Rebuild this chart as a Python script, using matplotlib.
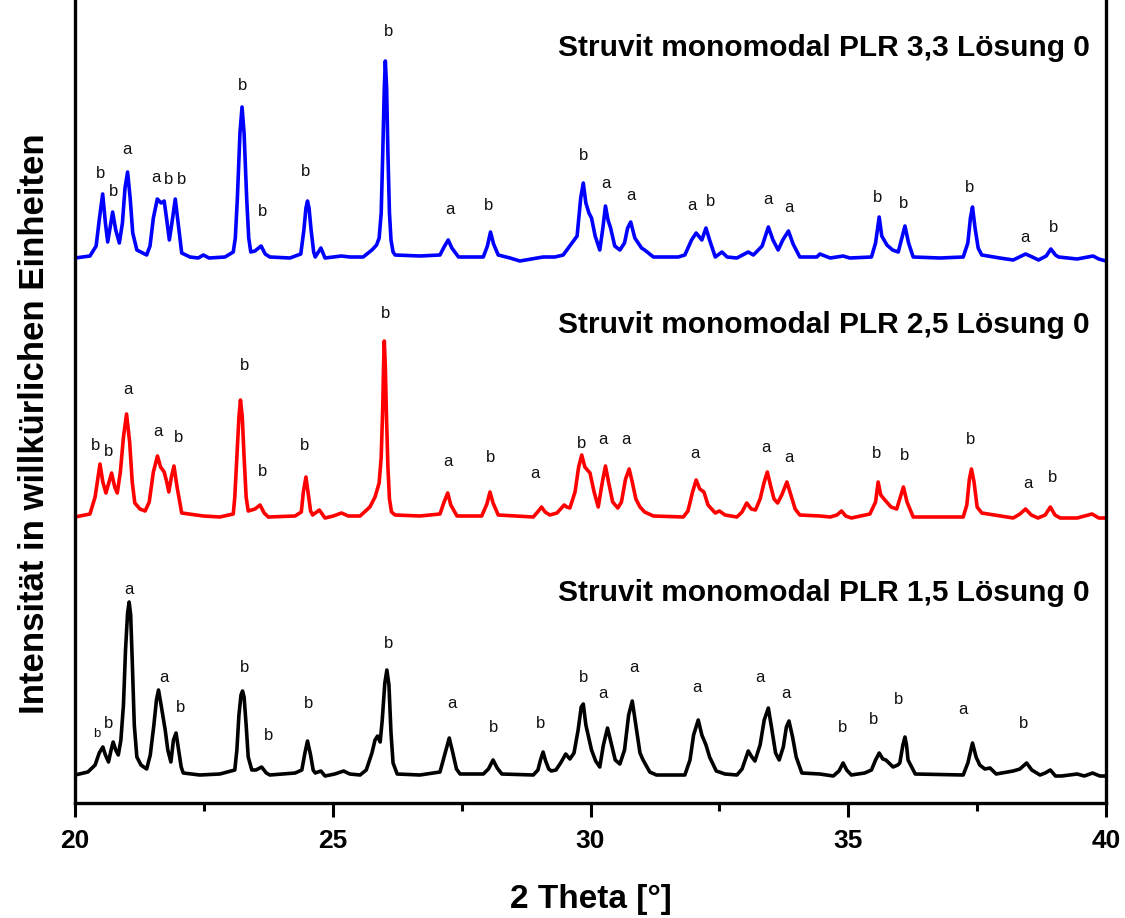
import matplotlib
matplotlib.use("Agg")
import matplotlib.pyplot as plt
from matplotlib import font_manager
from matplotlib.ticker import MultipleLocator

# ---------------- data: (2 Theta [deg], intensity [a.u.]) ----------------
blue_points = [(20.00, 0), (20.29, 2), (20.41, 12), (20.475, 40), (20.537, 64), (20.59, 35), (20.634, 16),
               (20.68, 30), (20.73, 46), (20.79, 28), (20.86, 15), (20.92, 35), (20.97, 70), (21.02, 86),
               (21.07, 60), (21.12, 25), (21.20, 8), (21.39, 3), (21.455, 12), (21.52, 40), (21.597, 59),
               (21.67, 55), (21.73, 57), (21.78, 38), (21.83, 18), (21.88, 35), (21.945, 59), (22.00, 35),
               (22.07, 5), (22.23, 1), (22.39, 0), (22.49, 3), (22.60, 0), (22.91, 1), (23.07, 6),
               (23.11, 20), (23.15, 60), (23.20, 125), (23.24, 151), (23.28, 125), (23.33, 60), (23.37, 20),
               (23.41, 6), (23.49, 7), (23.61, 12), (23.69, 4), (23.78, 1), (24.17, 0), (24.38, 4),
               (24.44, 28), (24.48, 50), (24.51, 57), (24.54, 50), (24.58, 28), (24.63, 6), (24.66, 1),
               (24.77, 10), (24.85, 0), (25.17, 2), (25.33, 1), (25.59, 1), (25.76, 8), (25.85, 13),
               (25.90, 20), (25.94, 45), (25.97, 105), (26.00, 170), (26.02, 197), (26.045, 170),
               (26.07, 105), (26.10, 45), (26.13, 18), (26.17, 6), (26.21, 3), (26.69, 2), (27.08, 3),
               (27.17, 12), (27.24, 18), (27.31, 10), (27.44, 1), (27.92, 1), (28.00, 12), (28.06, 26),
               (28.12, 14), (28.21, 3), (28.44, 0), (28.63, -3), (29.08, 1), (29.31, 1), (29.47, 3),
               (29.64, 15), (29.74, 22), (29.81, 60), (29.86, 75), (29.91, 55), (29.97, 45), (30.02, 40),
               (30.09, 22), (30.18, 8), (30.24, 30), (30.29, 52), (30.34, 38), (30.39, 30), (30.47, 12),
               (30.57, 8), (30.66, 15), (30.72, 30), (30.78, 36), (30.86, 20), (30.99, 10), (31.05, 8),
               (31.22, 1), (31.70, 1), (31.83, 3), (31.96, 18), (32.05, 25), (32.16, 18), (32.24, 30),
               (32.31, 18), (32.42, 1), (32.55, 6), (32.65, 1), (32.84, 0), (33.06, 6), (33.16, 3),
               (33.33, 12), (33.45, 31), (33.54, 18), (33.64, 8), (33.73, 18), (33.84, 27), (33.93, 14),
               (34.06, 1), (34.39, 1), (34.45, 4), (34.65, 0), (34.90, 2), (35.03, 0), (35.45, 1),
               (35.53, 15), (35.60, 41), (35.65, 22), (35.75, 13), (35.86, 8), (35.97, 6), (36.04, 20),
               (36.10, 32), (36.17, 15), (36.26, 1), (36.78, 0), (37.23, 1), (37.32, 15), (37.37, 40),
               (37.41, 51), (37.46, 30), (37.52, 10), (37.59, 3), (37.94, 0), (38.20, -2), (38.44, 4),
               (38.57, 1), (38.69, -2), (38.84, 2), (38.93, 9), (39.02, 3), (39.08, 1), (39.44, -1),
               (39.75, 2), (39.86, -1), (40.00, -3)]

red_points = [(20.00, 0), (20.29, 3), (20.39, 20), (20.485, 53), (20.54, 35), (20.60, 24), (20.66, 35),
              (20.71, 44), (20.77, 30), (20.82, 24), (20.88, 45), (20.94, 80), (21.00, 103), (21.06, 75),
              (21.11, 35), (21.16, 14), (21.26, 8), (21.36, 6), (21.44, 15), (21.52, 45), (21.60, 61),
              (21.66, 50), (21.73, 45), (21.78, 35), (21.82, 25), (21.87, 40), (21.92, 51), (21.98, 30),
              (22.07, 4), (22.49, 1), (22.81, 0), (23.07, 3), (23.10, 20), (23.14, 60), (23.18, 100),
              (23.21, 117), (23.245, 100), (23.28, 60), (23.32, 20), (23.36, 6), (23.49, 8), (23.59, 12),
              (23.67, 4), (23.75, 0), (24.27, 1), (24.39, 5), (24.43, 25), (24.48, 40), (24.52, 25),
              (24.57, 6), (24.61, 2), (24.74, 7), (24.85, -1), (25.01, 1), (25.17, 4), (25.30, 1),
              (25.53, 1), (25.72, 10), (25.82, 20), (25.90, 34), (25.94, 60), (25.97, 110), (25.985, 150),
              (26.00, 176), (26.02, 150), (26.04, 105), (26.07, 50), (26.10, 18), (26.14, 5), (26.21, 2),
              (26.69, 1), (27.08, 3), (27.16, 15), (27.23, 24), (27.29, 12), (27.41, 1), (27.89, 1),
              (27.99, 13), (28.05, 25), (28.11, 14), (28.21, 2), (28.89, 0), (28.99, 6), (29.05, 10),
              (29.12, 5), (29.21, 2), (29.35, 4), (29.49, 12), (29.54, 10), (29.60, 9), (29.70, 25),
              (29.77, 50), (29.83, 62), (29.89, 50), (29.99, 44), (30.07, 25), (30.15, 10), (30.23, 35),
              (30.29, 51), (30.35, 35), (30.43, 15), (30.53, 9), (30.60, 15), (30.68, 38), (30.75, 48),
              (30.81, 35), (30.88, 18), (30.96, 10), (31.05, 5), (31.22, 1), (31.80, 0), (31.89, 6),
              (31.98, 25), (32.05, 37), (32.12, 28), (32.20, 25), (32.28, 12), (32.42, 4), (32.50, 6),
              (32.61, 2), (32.84, 0), (32.94, 5), (33.03, 14), (33.12, 8), (33.20, 7), (33.29, 18),
              (33.37, 35), (33.43, 45), (33.50, 30), (33.56, 18), (33.63, 14), (33.71, 22), (33.81, 35),
              (33.87, 25), (33.97, 8), (34.06, 2), (34.45, 1), (34.65, 0), (34.78, 2), (34.87, 6),
              (34.95, 1), (35.06, -1), (35.42, 3), (35.53, 15), (35.58, 35), (35.63, 22), (35.71, 17),
              (35.83, 10), (35.94, 8), (36.00, 18), (36.07, 30), (36.14, 15), (36.26, 0), (37.23, 0),
              (37.30, 12), (37.35, 38), (37.39, 48), (37.44, 35), (37.50, 10), (37.59, 4), (38.20, -1),
              (38.33, 3), (38.44, 8), (38.55, 2), (38.68, -1), (38.82, 2), (38.92, 10), (39.01, 2),
              (39.11, -1), (39.44, -1), (39.73, 3), (39.86, -1), (40.00, -1)]

black_points = [(20.00, 0), (20.25, 3), (20.39, 10), (20.47, 22), (20.54, 28), (20.59, 20), (20.65, 13),
                (20.70, 25), (20.74, 33), (20.79, 25), (20.84, 20), (20.89, 35), (20.94, 70), (20.98, 125),
                (21.02, 162), (21.05, 173), (21.08, 160), (21.11, 115), (21.15, 50), (21.20, 18),
                (21.28, 10), (21.39, 6), (21.46, 20), (21.53, 50), (21.58, 75), (21.62, 85), (21.67, 70),
                (21.75, 45), (21.80, 25), (21.86, 13), (21.91, 35), (21.96, 42), (22.01, 25), (22.06, 8),
                (22.10, 2), (22.42, 0), (22.81, 1), (23.10, 5), (23.14, 25), (23.18, 60), (23.22, 80),
                (23.25, 84), (23.28, 78), (23.32, 50), (23.36, 18), (23.43, 5), (23.51, 5), (23.62, 8),
                (23.71, 2), (23.78, 0), (24.27, 2), (24.40, 5), (24.46, 22), (24.51, 34), (24.57, 20),
                (24.62, 5), (24.66, 2), (24.77, 4), (24.85, -1), (25.04, 1), (25.21, 4), (25.33, 1),
                (25.53, 0), (25.65, 5), (25.76, 22), (25.82, 35), (25.87, 39), (25.92, 33), (25.96, 55),
                (26.01, 92), (26.05, 105), (26.09, 90), (26.13, 42), (26.17, 12), (26.25, 1), (26.69, 0),
                (27.08, 3), (27.17, 20), (27.26, 37), (27.33, 22), (27.40, 6), (27.47, 1), (27.92, 1),
                (28.02, 6), (28.11, 15), (28.19, 7), (28.28, 1), (28.89, 0), (28.98, 5), (29.03, 15),
                (29.08, 23), (29.13, 14), (29.19, 6), (29.24, 4), (29.33, 5), (29.42, 12), (29.52, 21),
                (29.60, 16), (29.68, 22), (29.76, 45), (29.82, 68), (29.86, 71), (29.91, 50), (30.02, 25),
                (30.10, 14), (30.18, 8), (30.25, 30), (30.33, 47), (30.40, 32), (30.48, 15), (30.57, 11),
                (30.66, 25), (30.74, 60), (30.81, 74), (30.88, 50), (30.96, 22), (31.02, 15), (31.15, 3),
                (31.28, 0), (31.83, 0), (31.93, 15), (32.00, 40), (32.09, 55), (32.16, 40), (32.24, 30),
                (32.31, 18), (32.44, 4), (32.61, 1), (32.84, 0), (32.94, 6), (33.06, 24), (33.13, 18),
                (33.19, 14), (33.29, 30), (33.37, 55), (33.45, 67), (33.52, 45), (33.59, 22), (33.66, 15),
                (33.74, 28), (33.80, 48), (33.85, 54), (33.92, 38), (33.99, 18), (34.10, 2), (34.45, 1),
                (34.71, -1), (34.82, 4), (34.90, 12), (34.97, 5), (35.06, 0), (35.32, 2), (35.45, 5),
                (35.53, 15), (35.60, 22), (35.67, 16), (35.73, 15), (35.87, 8), (35.96, 10), (36.00, 12),
                (36.06, 30), (36.10, 38), (36.13, 30), (36.16, 15), (36.21, 10), (36.30, 1), (37.23, 0),
                (37.32, 12), (37.41, 32), (37.48, 18), (37.55, 10), (37.65, 6), (37.75, 7), (37.87, 1),
                (38.20, 4), (38.33, 6), (38.46, 12), (38.56, 5), (38.72, 0), (38.82, 2), (38.92, 5),
                (39.02, -1), (39.14, -1), (39.44, 1), (39.58, -1), (39.74, 2), (39.88, -1), (40.00, -1)]

# peak assignment labels: letter, 2 Theta, height (same units as intensity)
lab_blue_txt = ["b", "b", "a", "a", "b", "b", "b", "b", "b", "b", "a", "b", "b", "a", "a", "a", "b",
                "a", "a", "b", "b", "b", "a", "b"]
lab_blue_x = [20.50, 20.74, 21.01, 21.57, 21.82, 22.07, 23.25, 23.64, 24.47, 26.08, 27.27, 28.03, 29.86,
              30.29, 30.78, 31.96, 32.32, 33.45, 33.84, 35.56, 36.07, 37.36, 38.43, 38.99]
lab_blue_y = [84, 66, 109, 80, 79, 79, 173, 47, 87, 226, 48, 52, 103, 75, 63, 52, 56, 59, 50, 60, 54,
              71, 21, 31]

lab_red_txt = ["b", "b", "a", "a", "b", "b", "b", "b", "b", "a", "b", "a", "b", "a", "a", "a", "a",
               "a", "b", "b", "b", "a", "b"]
lab_red_x = [20.39, 20.65, 21.03, 21.60, 22.00, 23.28, 23.64, 24.46, 26.03, 27.24, 28.06, 28.92, 29.82,
             30.25, 30.69, 32.03, 33.40, 33.84, 35.54, 36.10, 37.38, 38.48, 38.96]
lab_red_y = [72, 66, 127, 86, 79, 152, 45, 71, 203, 55, 59, 43, 74, 77, 77, 64, 70, 60, 64, 61, 77,
             34, 39]

lab_black_txt = ["b", "b", "a", "a", "b", "b", "b", "b", "b", "a", "b", "b", "b", "a", "a", "a", "a",
                 "a", "b", "b", "b", "a", "b"]
lab_black_x = [20.43, 20.66, 21.05, 21.73, 22.04, 23.28, 23.76, 24.54, 26.08, 27.32, 28.11, 29.04, 29.86,
               30.25, 30.85, 32.06, 33.29, 33.79, 34.88, 35.49, 35.98, 37.23, 38.40]
lab_black_y = [41, 51, 186, 98, 68, 107, 39, 71, 131, 72, 48, 52, 98, 82, 107, 87, 98, 81, 48, 56, 76,
               66, 52]

series_names = ["Struvit monomodal PLR 3,3 Lösung 0",
                "Struvit monomodal PLR 2,5 Lösung 0",
                "Struvit monomodal PLR 1,5 Lösung 0"]
x_ticks = [20, 25, 30, 35, 40]

# ---------------- styling / layout ----------------
avail = {f.name for f in font_manager.fontManager.ttflist}
main_font = "Liberation Sans" if "Liberation Sans" in avail else "DejaVu Sans"
narrow_font = "Liberation Sans Narrow" if "Liberation Sans Narrow" in avail else main_font

offsets = [545, 286, 28]   # vertical stacking of the three patterns
colors = ["#0000ff", "#ff0000", "#000000"]
title_y = [755, 478, 210]

fig = plt.figure(figsize=(11.25, 9.18), dpi=100)
ax = fig.add_axes([75 / 1125, 115 / 918, 1031 / 1125, 803 / 918])

series = [blue_points, red_points, black_points]
labs = [(lab_blue_txt, lab_blue_x, lab_blue_y),
        (lab_red_txt, lab_red_x, lab_red_y),
        (lab_black_txt, lab_black_x, lab_black_y)]

for k in range(3):
    xs = [p[0] for p in series[k]]
    ys = [p[1] + offsets[k] for p in series[k]]
    ax.plot(xs, ys, color=colors[k], lw=2.6, solid_joinstyle="round", solid_capstyle="round")
    txt, lx, ly = labs[k]
    for i, (t, x, y) in enumerate(zip(txt, lx, ly)):
        fs = 9.5 if (k == 2 and i == 0) else 12
        ax.text(x, y + offsets[k], t, ha="center", va="center", fontsize=fs,
                family=main_font, color="#111111")
    ax.text(0.9845, title_y[k], series_names[k], transform=ax.get_yaxis_transform(),
            ha="right", va="center", fontsize=21.5, fontweight="bold", family=main_font)

ax.set_xlim(20, 40)
ax.set_ylim(0, 803)
ax.set_xticks(x_ticks)
ax.set_xticklabels([str(t) for t in x_ticks], fontsize=19, fontweight="bold", family=narrow_font)
ax.xaxis.set_minor_locator(MultipleLocator(2.5))
ax.set_yticks([])
ax.tick_params(axis="x", which="major", direction="out", length=10, width=2.2, pad=9)
ax.tick_params(axis="x", which="minor", direction="out", length=6, width=2.2)
for s in ["left", "right", "bottom"]:
    ax.spines[s].set_linewidth(2.4)
ax.spines["top"].set_visible(False)

ax.set_xlabel("2 Theta [°]", fontsize=24, fontweight="bold", family=narrow_font, labelpad=22)
fig.text(35 / 1125, 1 - 424 / 918, "Intensität in willkürlichen Einheiten", rotation=90,
         ha="center", va="center", fontsize=25, fontweight="bold", family=main_font)

fig.savefig("out.png", dpi=100)
